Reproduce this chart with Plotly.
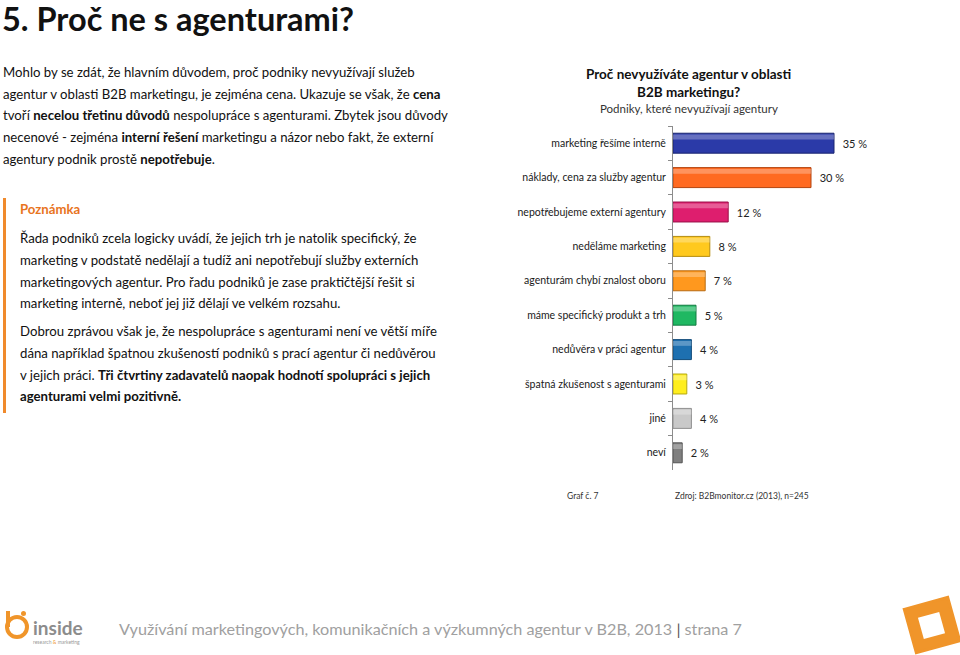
import numpy as np
import plotly.graph_objects as go

W, H = 960, 655

categories = [
    "marketing řešíme interně",
    "náklady, cena za služby agentur",
    "nepotřebujeme externí agentury",
    "neděláme marketing",
    "agenturám chybí znalost oboru",
    "máme specifický produkt a trh",
    "nedůvěra v práci agentur",
    "špatná zkušenost s agenturami",
    "jiné",
    "neví",
]
values = [35, 30, 12, 8, 7, 5, 4, 3, 4, 2]
bar_colors = ["#2B3AA8", "#FF6A21", "#DE1E6E", "#FFC91E", "#FF981E",
              "#1FB862", "#1E70B0", "#FFEE1E", "#C9C9C9", "#7F7F7F"]
bar_lines = ["#1A2470", "#B24510", "#9A1048", "#B58C10", "#B86A10",
             "#127A40", "#124C7A", "#B5A810", "#8F8F8F", "#555555"]

chart_title = "<b>Proč nevyužíváte agentur v oblasti<br>B2B marketingu?</b>"
chart_subtitle = "Podniky, které nevyužívají agentury"

FONT = "Lato"


def px(x):
    return x / W


def py(y):
    return 1 - y / H


fig = go.Figure()
fig.add_trace(go.Bar(
    x=values, y=categories, orientation="h",
    marker=dict(color=bar_colors, line=dict(color=bar_lines, width=1)),
    width=0.58, offset=-0.29,
    text=values, texttemplate="  %{x} %", textposition="outside",
    textfont=dict(family=FONT, size=11, color="#222222"),
    cliponaxis=False, hoverinfo="skip",
))
# glossy highlight on the upper part of each bar
fig.add_trace(go.Bar(
    x=values, y=categories, orientation="h",
    marker=dict(color="rgba(255,255,255,0.28)", line=dict(width=0)),
    width=0.14, offset=-0.25, hoverinfo="skip",
))

fig.update_layout(
    width=W, height=H, margin=dict(l=0, r=0, t=0, b=0),
    paper_bgcolor="white", plot_bgcolor="white", showlegend=False,
    barmode="overlay",
    font=dict(family=FONT, color="#111111"),
    xaxis=dict(domain=[px(673), px(900)], range=[0, 227 / 4.6], visible=False),
    yaxis=dict(domain=[py(470), py(126)], autorange="reversed",
               showline=True, linecolor="#8C8C8C", linewidth=1,
               ticks="outside", tickson="boundaries", ticklen=4, tickcolor="#8C8C8C",
               tickfont=dict(family=FONT, size=10.5, color="#1A1A1A"),
               ticklabelstandoff=4, showgrid=False, zeroline=False),
)

ann = []


def text(x, y, s, size, color="#111111", anchor="left", yanchor="middle", family=FONT):
    ann.append(dict(x=px(x), y=py(y), xref="paper", yref="paper", text=s,
                    showarrow=False, xanchor=anchor, yanchor=yanchor,
                    font=dict(family=family, size=size, color=color), align=anchor))


# page title
text(0, 18, "<b>5. Proč ne s agenturami?</b>", 32.5)

intro = [
    "Mohlo by se zdát, že hlavním důvodem, proč podniky nevyužívají služeb",
    "agentur v oblasti B2B marketingu, je zejména cena. Ukazuje se však, že <b>cena</b>",
    "tvoří <b>necelou třetinu důvodů</b> nespolupráce s agenturami. Zbytek jsou důvody",
    "necenové - zejména <b>interní řešení</b> marketingu a názor nebo fakt, že externí",
    "agentury podnik prostě <b>nepotřebuje</b>.",
]
for i, line in enumerate(intro):
    text(1, 72 + i * 21.7, line, 13.2)

text(18, 209, "<b>Poznámka</b>", 13.2, color="#E8741E")
note = [
    "Řada podniků zcela logicky uvádí, že jejich trh je natolik specifický, že",
    "marketing v podstatě nedělají a tudíž ani nepotřebují služby externích",
    "marketingových agentur. Pro řadu podniků je zase praktičtější řešit si",
    "marketing interně, neboť jej již dělají ve velkém rozsahu.",
]
for i, line in enumerate(note):
    text(18, 238 + i * 21.8, line, 13.2)
note2 = [
    "Dobrou zprávou však je, že nespolupráce s agenturami není ve větší míře",
    "dána například špatnou zkušeností podniků s prací agentur či nedůvěrou",
    "v jejich práci. <b>Tři čtvrtiny zadavatelů naopak hodnotí spolupráci s jejich</b>",
    "<b>agenturami velmi pozitivně.</b>",
]
for i, line in enumerate(note2):
    text(18, 331 + i * 21.8, line, 13.2)

# chart titles
ann.append(dict(x=px(689), y=py(64), xref="paper", yref="paper", text=chart_title,
                showarrow=False, xanchor="center", yanchor="top", align="center",
                font=dict(family=FONT, size=13.5, color="#111111")))
text(689, 109, chart_subtitle, 11.5, color="#333333", anchor="center")

text(565, 496, "Graf č. 7", 8.5, color="#333333")
text(673, 496, "Zdroj: B2Bmonitor.cz (2013), n=245", 8.5, color="#333333")

# footer
text(117, 628, "Využívání marketingových, komunikačních a výzkumných agentur v B2B, 2013 "
     "<span style='color:#555555'>|</span> strana 7", 16.2, color="#A0A0A0")
text(31, 627, "<b>inside</b>", 19, color="#8C8C8C")
text(31, 642, "research <span style='color:#F0952A'>&</span> marketing", 5, color="#999999")

fig.update_layout(annotations=ann)

shapes = []
# orange note bar
shapes.append(dict(type="rect", xref="paper", yref="paper", x0=px(3), x1=px(6),
                   y0=py(413), y1=py(198), fillcolor="#F08A2C", line=dict(width=0)))

# inside logo icon
shapes.append(dict(type="circle", xref="paper", yref="paper", x0=px(7), x1=px(27),
                   y0=py(637), y1=py(617), line=dict(color="#F0952A", width=4)))
shapes.append(dict(type="line", xref="paper", yref="paper", x0=px(8), x1=px(8),
                   y0=py(627), y1=py(611), line=dict(color="#F0952A", width=4)))
shapes.append(dict(type="circle", xref="paper", yref="paper", x0=px(21), x1=px(26),
                   y0=py(616), y1=py(611), fillcolor="#F0952A", line=dict(width=0)))


def rot_square(cx, cy, side, ang):
    a = np.deg2rad(ang)
    pts = []
    for dx, dy in [(-1, -1), (1, -1), (1, 1), (-1, 1)]:
        x = dx * side / 2
        y = dy * side / 2
        xr = cx + x * np.cos(a) + y * np.sin(a)
        yr = cy - x * np.sin(a) + y * np.cos(a)
        pts.append((px(xr), py(yr)))
    return "M " + " L ".join(f"{x:.5f},{y:.5f}" for x, y in pts) + " Z"


shapes.append(dict(type="path", xref="paper", yref="paper", path=rot_square(932, 625, 45, 15.5),
                   fillcolor="#F0952A", line=dict(color="#F0952A", width=3)))
shapes.append(dict(type="path", xref="paper", yref="paper", path=rot_square(931.5, 625.5, 22, 15.5),
                   fillcolor="white", line=dict(width=0)))
fig.update_layout(shapes=shapes)

fig.write_html("out.html", config={"displayModeBar": False},
               post_script="document.body.style.margin='0';")
